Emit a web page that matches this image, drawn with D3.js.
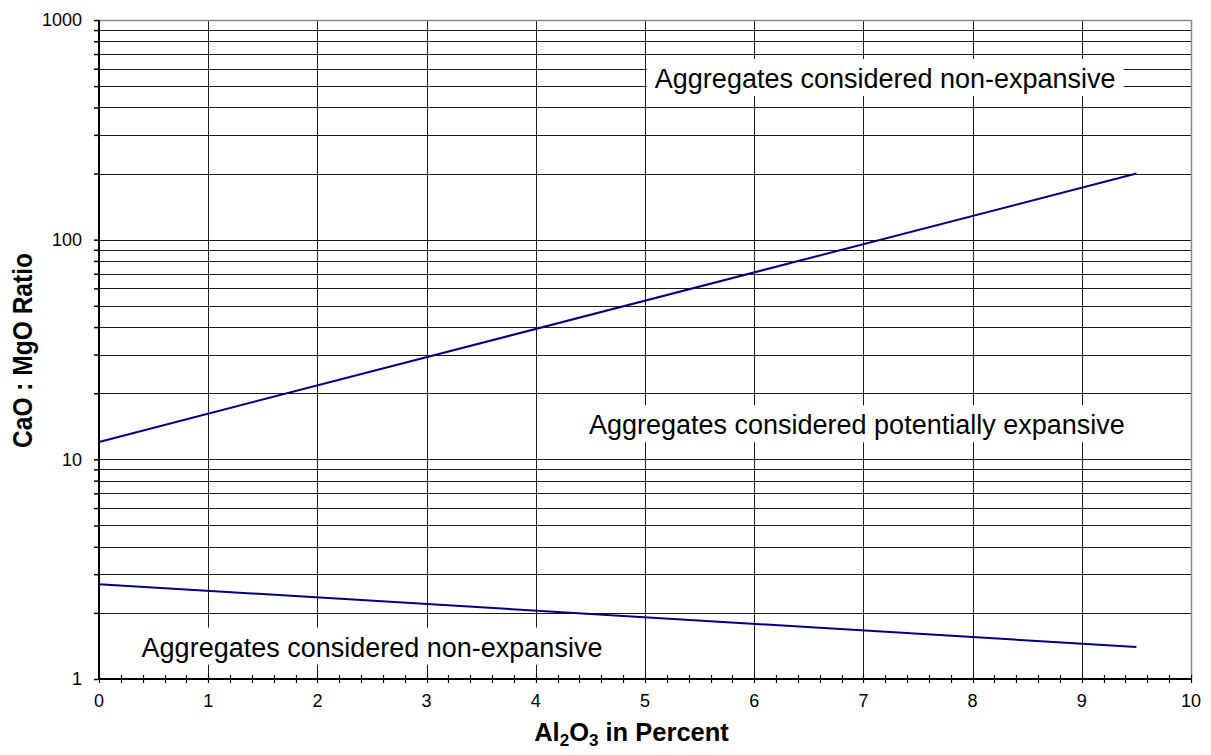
<!DOCTYPE html>
<html>
<head>
<meta charset="utf-8">
<script src="https://cdn.jsdelivr.net/npm/d3@7"></script>
<style>
  html, body { margin: 0; padding: 0; background: #fff; }
  svg { display: block; font-family: "Liberation Sans", Arial, sans-serif; }
</style>
</head>
<body>
<svg id="chart" width="1211" height="755"></svg>
<script>
// ---- data ----
const upperLineX = [0, 9.5];
const upperLineY = [12, 200];
const lowerLineX = [0, 9.5];
const lowerLineY = [2.7, 1.4];
const xTickValues = [0, 1, 2, 3, 4, 5, 6, 7, 8, 9, 10];
const yTickLabels = [1, 10, 100, 1000];
const regionLabels = ["Aggregates considered non-expansive", "Aggregates considered potentially expansive", "Aggregates considered non-expansive"];
const regionLabelX = [7.2, 6.94, 2.5];
const regionLabelY = [490, 13.0, 1.264];
const yTitle = "CaO : MgO Ratio";

// ---- layout ----
const svg = d3.select("#chart");
const L = 99, R = 1191, T = 20, B = 679;
const x = d3.scaleLinear().domain([0, 10]).range([L, R]);
const y = d3.scaleLog().domain([1, 1000]).range([B, T]);
const cr = v => Math.round(v) + 0.5;

// gridlines horizontal (all log ticks)
const yGrid = y.ticks().filter(v => v > 1 && v < 1000);
svg.append("g").selectAll("line").data(yGrid).join("line")
  .attr("x1", L).attr("x2", R)
  .attr("y1", d => cr(y(d))).attr("y2", d => cr(y(d)))
  .attr("stroke", "#1a1a1a").attr("stroke-width", 1);

// gridlines vertical
svg.append("g").selectAll("line").data(xTickValues.filter(v => v > 0 && v < 10)).join("line")
  .attr("x1", d => cr(x(d))).attr("x2", d => cr(x(d)))
  .attr("y1", T).attr("y2", B)
  .attr("stroke", "#1a1a1a").attr("stroke-width", 1);

// top & right border (grey)
svg.append("line").attr("x1", L).attr("x2", R).attr("y1", cr(T)).attr("y2", cr(T))
  .attr("stroke", "#888").attr("stroke-width", 1.5);
svg.append("line").attr("x1", cr(R)).attr("x2", cr(R)).attr("y1", T).attr("y2", B)
  .attr("stroke", "#888").attr("stroke-width", 1.5);

// lines
const line = d3.line().x(d => x(d[0])).y(d => y(d[1]));
svg.append("path").datum(upperLineX.map((v, i) => [v, upperLineY[i]]))
  .attr("d", line).attr("fill", "none").attr("stroke", "#000080").attr("stroke-width", 2);
svg.append("path").datum(lowerLineX.map((v, i) => [v, lowerLineY[i]]))
  .attr("d", line).attr("fill", "none").attr("stroke", "#000080").attr("stroke-width", 2);

// region labels with white boxes
const lg = svg.append("g");
regionLabels.forEach((txt, i) => {
  const g = lg.append("g");
  const t = g.append("text")
    .attr("x", x(regionLabelX[i])).attr("y", y(regionLabelY[i]))
    .attr("text-anchor", "middle")
    .attr("font-size", 27).attr("fill", "#000").text(txt);
  const w = t.node().getComputedTextLength();
  const cx = x(regionLabelX[i]), by = y(regionLabelY[i]);
  g.insert("rect", "text")
    .attr("x", cx - w / 2 - 8).attr("y", by - 29)
    .attr("width", w + 16).attr("height", 37)
    .attr("fill", "#fff");
});

// y axis
const yAxis = d3.axisLeft(y).tickValues(y.ticks()).tickSize(5).tickFormat(d => yTickLabels.includes(d) ? d3.format("d")(d) : "");
const ya = svg.append("g").attr("transform", `translate(${L},0)`).call(yAxis);
ya.attr("font-size", 18).attr("font-family", "Liberation Sans, Arial, sans-serif");
ya.select(".domain").remove();
ya.selectAll(".tick line").attr("stroke", "#000").attr("stroke-width", 1.5);
ya.selectAll(".tick text").attr("font-size", 18).attr("fill", "#000").attr("x", -17);
svg.append("line").attr("x1", L).attr("x2", L).attr("y1", T).attr("y2", B + 1)
  .attr("stroke", "#000").attr("stroke-width", 2);

// x axis
const xMinor = d3.range(0, 50).map(i => i / 5).concat([10]);
const xa = svg.append("g").attr("transform", `translate(0,${B})`);
xa.selectAll("line.mt").data(xMinor).join("line").attr("class", "mt")
  .attr("x1", d => cr(x(d))).attr("x2", d => cr(x(d)))
  .attr("y1", -4).attr("y2", 4).attr("stroke", "#000").attr("stroke-width", 1.2);
xa.selectAll("text").data(xTickValues).join("text")
  .attr("x", d => x(d)).attr("y", 28)
  .attr("text-anchor", "middle").attr("font-size", 18).attr("fill", "#000")
  .text(d => d);
svg.append("line").attr("x1", L - 1).attr("x2", R).attr("y1", B).attr("y2", B)
  .attr("stroke", "#000").attr("stroke-width", 2);

// axis titles
const xt = svg.append("text").attr("x", 631.5).attr("y", 741)
  .attr("text-anchor", "middle").attr("font-size", 25.5).attr("font-weight", "bold").attr("fill", "#000");
xt.append("tspan").text("Al");
xt.append("tspan").attr("font-size", 17).attr("dy", 5).text("2");
xt.append("tspan").attr("dy", -5).text("O");
xt.append("tspan").attr("font-size", 17).attr("dy", 5).text("3");
xt.append("tspan").attr("dy", -5).text(" in Percent");

svg.append("text").attr("transform", "translate(32,350.5) rotate(-90)")
  .attr("text-anchor", "middle").attr("font-size", 28).attr("font-weight", "bold")
  .attr("textLength", 195).attr("lengthAdjust", "spacingAndGlyphs")
  .attr("fill", "#000").text(yTitle);
</script>
</body>
</html>
